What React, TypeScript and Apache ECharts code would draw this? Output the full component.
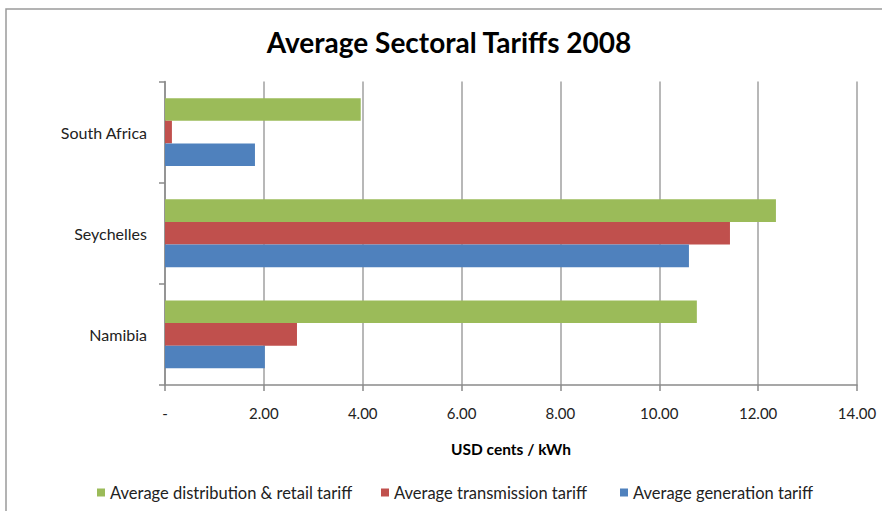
import React, { useEffect, useRef } from "react";
import * as echarts from "echarts";

const categories = ["Namibia", "Seychelles", "South Africa"];
const distribution = [10.76, 12.36, 3.96];
const transmission = [2.67, 11.43, 0.14];
const generation = [2.02, 10.6, 1.82];
const xTicks = { min: 0, max: 14, interval: 2 };
const seriesNames = [
  "Average distribution & retail tariff",
  "Average transmission tariff",
  "Average generation tariff",
];
const legendLefts = [97, 381, 620];

const FONT = "Lato";

export default function App() {
  const ref = useRef<HTMLDivElement>(null);
  useEffect(() => {
    document.body.style.margin = "0";
    const chart = echarts.init(ref.current!, undefined, { renderer: "svg" });
    chart.setOption({
      animation: false,
      textStyle: { fontFamily: FONT },
      graphic: [
        {
          type: "rect",
          shape: { x: 6, y: 9, width: 1000, height: 1000 },
          style: { fill: "none", stroke: "#9a9a9a", lineWidth: 1.5 },
          silent: true,
        },
        {
          type: "text",
          x: 449,
          y: 42,
          style: {
            text: "Average Sectoral Tariffs 2008",
            font: `bold 28px ${FONT}`,
            fill: "#000",
            align: "center",
            verticalAlign: "middle",
          },
        },
      ],
      grid: { left: 165, right: 25, top: 81.5, bottom: 126 },
      legend: seriesNames.map((n, i) => ({
        left: legendLefts[i],
        top: 484,
        padding: 0,
        icon: "rect",
        itemWidth: 8,
        itemHeight: 8,
        data: [n],
        textStyle: { fontSize: 16.5, color: "#222", fontFamily: FONT },
      })),
      xAxis: {
        type: "value",
        min: xTicks.min,
        max: xTicks.max,
        interval: xTicks.interval,
        name: "USD cents / kWh",
        nameLocation: "middle",
        nameGap: 56,
        nameTextStyle: { fontWeight: "bold", fontSize: 15.5, color: "#000", fontFamily: FONT },
        axisLine: { show: true, lineStyle: { color: "#8a8a8a", width: 1.5 } },
        axisTick: { show: true, length: 6, lineStyle: { color: "#8a8a8a", width: 1.5 } },
        axisLabel: {
          fontSize: 15,
          color: "#222",
          margin: 20,
          formatter: (v: number) => (v === 0 ? "-" : v.toFixed(2)),
        },
        splitLine: { show: true, lineStyle: { color: "#a0a0a0", width: 1.5 } },
      },
      yAxis: {
        type: "category",
        data: categories,
        axisLine: { show: true, lineStyle: { color: "#8a8a8a", width: 1.5 } },
        axisTick: { show: true, length: 6, lineStyle: { color: "#8a8a8a", width: 1.5 } },
        axisLabel: { fontSize: 16, color: "#222", margin: 18 },
      },
      series: [
        {
          name: seriesNames[0],
          type: "bar",
          data: distribution,
          itemStyle: { color: "#9BBB59" },
          barGap: "0%",
          barCategoryGap: "33%",
        },
        {
          name: seriesNames[1],
          type: "bar",
          data: transmission,
          itemStyle: { color: "#C0504D" },
        },
        {
          name: seriesNames[2],
          type: "bar",
          data: generation,
          itemStyle: { color: "#4F81BD" },
        },
      ],
    });
    return () => chart.dispose();
  }, []);
  return <div ref={ref} style={{ width: 882, height: 511 }} />;
}
